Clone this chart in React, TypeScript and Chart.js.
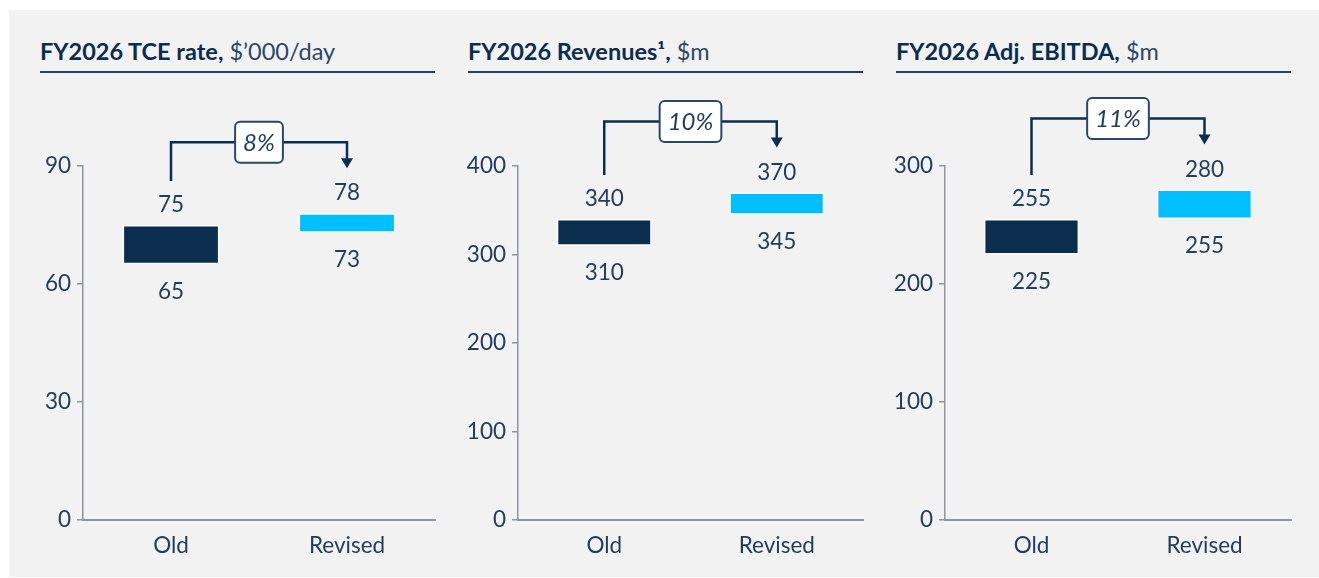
import React, { useEffect, useRef } from 'react';
import { Chart, registerables } from 'chart.js';

Chart.register(...registerables);

// ---- data ----
const categories = ['Old', 'Revised'];
const tceLow = [65, 73];
const tceHigh = [75, 78];
const revenueLow = [310, 345];
const revenueHigh = [340, 370];
const ebitdaLow = [225, 255];
const ebitdaHigh = [255, 280];
const changeLabels = ['8%', '10%', '11%'];
const axisMax = [90, 400, 300];
const axisStep = [30, 100, 100];
const titleBold = ['FY2026 TCE rate,', 'FY2026 Revenues\u00B9,', 'FY2026 Adj. EBITDA,'];
const titleUnit = ['$\u2019000/day', '$m', '$m'];

// ---- styles ----
const FONT = 'Lato, "Noto Sans", sans-serif';
const NAVY = '#0b2e4f';
const TEXT = '#213e5e';
const CYAN = '#00bfff';
const AXIS = '#8c96a1';

type PanelLayout = { canvasLeft: number; canvasWidth: number; titleLeft: number };
const layouts: PanelLayout[] = [
  { canvasLeft: 20, canvasWidth: 425, titleLeft: 40 },
  { canvasLeft: 455, canvasWidth: 418, titleLeft: 468 },
  { canvasLeft: 882, canvasWidth: 419, titleLeft: 896 },
];
const CANVAS_TOP = 80;
const CANVAS_H = 490;
const Y_AXIS_W = 63;
const PAD_RIGHT = 10;

const annotPlugin = {
  id: 'annot',
  afterDraw(chart: any, _args: any, opts: any) {
    const { ctx } = chart;
    const y = chart.scales.y;
    const meta = chart.getDatasetMeta(0);
    const low: number[] = opts.low;
    const high: number[] = opts.high;
    ctx.save();
    // value labels
    ctx.font = `22.5px ${FONT}`;
    ctx.fillStyle = TEXT;
    ctx.textAlign = 'center';
    ctx.textBaseline = 'middle';
    for (let i = 0; i < low.length; i++) {
      const x = meta.data[i].x;
      const top = y.getPixelForValue(high[i]);
      const bot = y.getPixelForValue(low[i]);
      ctx.fillText(String(high[i]), x, top - 20);
      ctx.fillText(String(low[i]), x, bot + 27);
    }
    // bracket arrow
    const oldX = meta.data[0].x;
    const revX = meta.data[1].x;
    const oldTop = y.getPixelForValue(high[0]);
    const revTop = y.getPixelForValue(high[1]);
    const hY = Math.min(oldTop, revTop) - 71;
    const tipY = revTop - 45;
    ctx.strokeStyle = NAVY;
    ctx.fillStyle = NAVY;
    ctx.lineWidth = 2.5;
    ctx.lineCap = 'butt';
    ctx.lineJoin = 'miter';
    ctx.beginPath();
    ctx.moveTo(oldX, oldTop - 44);
    ctx.lineTo(oldX, hY);
    ctx.lineTo(revX, hY);
    ctx.lineTo(revX, tipY - 8);
    ctx.stroke();
    ctx.beginPath();
    ctx.moveTo(revX - 6, tipY - 10);
    ctx.lineTo(revX + 6, tipY - 10);
    ctx.lineTo(revX, tipY);
    ctx.closePath();
    ctx.fill();
    // label box
    ctx.font = `italic 24px ${FONT}`;
    const tw = ctx.measureText(opts.change).width;
    const bw = tw + 16;
    const bh = 41;
    const cx = (oldX + revX) / 2;
    ctx.beginPath();
    ctx.roundRect(cx - bw / 2, hY - bh / 2, bw, bh, 5);
    ctx.fillStyle = '#ffffff';
    ctx.fill();
    ctx.lineWidth = 2;
    ctx.strokeStyle = '#2a4866';
    ctx.stroke();
    ctx.fillStyle = TEXT;
    ctx.textAlign = 'center';
    ctx.textBaseline = 'middle';
    ctx.fillText(opts.change, cx, hY + 1);
    ctx.restore();
  },
};

function Panel({ index, low, high }: { index: number; low: number[]; high: number[] }) {
  const ref = useRef<HTMLCanvasElement>(null);
  const lay = layouts[index];
  useEffect(() => {
    if (!ref.current) return;
    const chart = new Chart(ref.current, {
      type: 'bar',
      data: {
        labels: categories,
        datasets: [
          {
            data: low.map((v, i) => [v, high[i]]) as any,
            backgroundColor: [NAVY, CYAN],
            borderColor: '#ffffff',
            borderWidth: 1.5,
            borderSkipped: false,
            barPercentage: 0.55,
            categoryPercentage: 1,
          },
        ],
      },
      options: {
        responsive: false,
        animation: false,
        devicePixelRatio: 1,
        layout: { padding: { top: 86, right: PAD_RIGHT, left: 0, bottom: 0 } },
        plugins: {
          legend: { display: false },
          tooltip: { enabled: false },
          title: { display: false },
          annot: { low, high, change: changeLabels[index] },
        } as any,
        scales: {
          x: {
            grid: { display: false, drawTicks: false },
            border: { display: true, color: AXIS, width: 2 },
            ticks: { color: TEXT, font: { family: FONT, size: 22.5 }, padding: 12 },
            afterFit: (s: any) => {
              s.height = 50;
            },
          },
          y: {
            min: 0,
            max: axisMax[index],
            ticks: {
              stepSize: axisStep[index],
              color: TEXT,
              font: { family: FONT, size: 22.5 },
              padding: 6,
            },
            grid: { drawOnChartArea: false, drawTicks: true, tickLength: 6, color: AXIS, lineWidth: 1.5 },
            border: { display: true, color: AXIS, width: 1.5 },
            afterFit: (s: any) => {
              s.width = Y_AXIS_W;
            },
          },
        },
      },
      plugins: [annotPlugin as any],
    });
    return () => chart.destroy();
  }, []);
  return (
    <>
      <div
        style={{
          position: 'absolute',
          left: lay.titleLeft,
          top: 38,
          fontFamily: FONT,
          fontSize: 23.5,
          lineHeight: '26px',
          color: NAVY,
          whiteSpace: 'nowrap',
        }}
      >
        <span style={{ fontWeight: 700 }}>{titleBold[index]}</span>
        <span style={{ fontWeight: 400, color: '#2b4867' }}> {titleUnit[index]}</span>
      </div>
      <div
        style={{
          position: 'absolute',
          left: lay.titleLeft,
          top: 71,
          width: lay.canvasLeft + lay.canvasWidth - PAD_RIGHT - lay.titleLeft,
          height: 2,
          background: '#1d4366',
        }}
      />
      <canvas
        ref={ref}
        width={lay.canvasWidth}
        height={CANVAS_H}
        style={{ position: 'absolute', left: lay.canvasLeft, top: CANVAS_TOP, width: lay.canvasWidth, height: CANVAS_H }}
      />
    </>
  );
}

export default function App() {
  return (
    <div style={{ position: 'absolute', left: 0, top: 0, width: 1319, height: 578, background: '#ffffff', overflow: 'hidden' }}>
      <div style={{ position: 'absolute', left: 9, top: 10, width: 1310, height: 567, background: '#f2f2f2' }} />
      <Panel index={0} low={tceLow} high={tceHigh} />
      <Panel index={1} low={revenueLow} high={revenueHigh} />
      <Panel index={2} low={ebitdaLow} high={ebitdaHigh} />
    </div>
  );
}
